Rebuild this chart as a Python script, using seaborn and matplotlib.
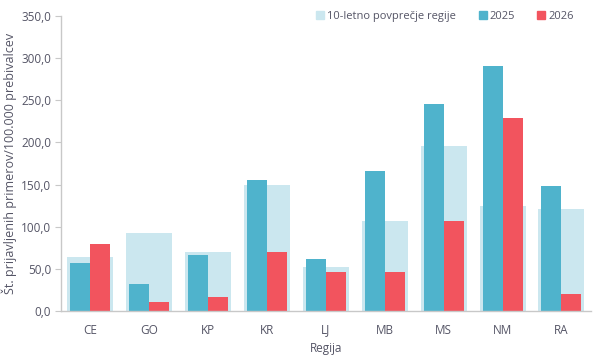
import numpy as np
import pandas as pd
import seaborn as sns
import matplotlib.pyplot as plt
from matplotlib.lines import Line2D
from matplotlib.ticker import FuncFormatter

regije = ["CE", "GO", "KP", "KR", "LJ", "MB", "MS", "NM", "RA"]
povprecje = [64.5, 92.0, 69.5, 150.0, 52.5, 107.0, 195.5, 124.0, 121.0]
v2025 = [57.5, 31.5, 66.0, 156.0, 62.0, 166.5, 245.5, 291.0, 148.5]
v2026 = [79.0, 11.0, 17.0, 70.5, 46.5, 46.5, 107.0, 229.0, 20.5]

c_avg = "#cbe7ef"
c_25 = "#4fb3cc"
c_26 = "#f2545e"
txt = "#555566"
grid_c = "#c8c8c8"

sns.set_style("white")
plt.rcParams['font.family'] = ['Open Sans', 'DejaVu Sans']

fig = plt.figure(figsize=(6.06, 3.64), dpi=100)
ax = fig.add_axes([0.1007, 0.1456, 0.8743, 0.8104])

sns.barplot(x=regije, y=povprecje, color=c_avg, width=0.78, ax=ax,
            saturation=1, linewidth=0)

df = pd.DataFrame({
    "regija": regije * 2,
    "vrednost": v2025 + v2026,
    "leto": ["2025"] * len(regije) + ["2026"] * len(regije),
})
sns.barplot(data=df, x="regija", y="vrednost", hue="leto", palette=[c_25, c_26],
            width=0.68, ax=ax, saturation=1, legend=False, linewidth=0)

ax.set_xlim(-0.5, 8.5)
ax.set_ylim(0, 350)
ax.set_yticks(np.arange(0, 351, 50))
ax.yaxis.set_major_formatter(FuncFormatter(lambda v, p: f"{v:.1f}".replace(".", ",")))

for s in ["top", "right"]:
    ax.spines[s].set_visible(False)
for s in ["left", "bottom"]:
    ax.spines[s].set_color(grid_c)
    ax.spines[s].set_linewidth(1)

ax.tick_params(axis="y", length=4, color=grid_c, colors=txt, labelsize=8.5, pad=3, left=True)
ax.tick_params(axis="x", length=0, colors=txt, labelsize=8.5, pad=9)
for t in ax.get_yticklabels():
    t.set_color(txt)

ax.set_xlabel("Regija", color=txt, fontsize=8.5, labelpad=4)
ax.set_ylabel("Št. prijavljenih primerov/100.000 prebivalcev", color=txt, fontsize=9, labelpad=3)

handles = [Line2D([], [], marker="s", linestyle="", color=c, markersize=6)
           for c in [c_avg, c_25, c_26]]
fig.legend(handles, ["10-letno povprečje regije", "2025", "2026"], ncol=3,
           loc="center right", bbox_to_anchor=(0.963, 0.955), frameon=False,
           fontsize=8, labelcolor=txt, handlelength=0.8, handletextpad=0.2,
           columnspacing=2.0)

fig.savefig("out.png", dpi=100)
